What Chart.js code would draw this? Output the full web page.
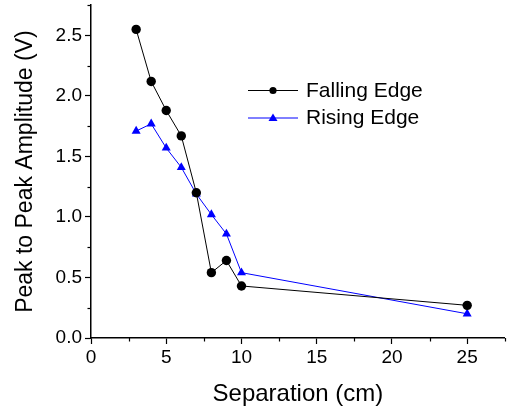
<!DOCTYPE html>
<html><head><meta charset="utf-8">
<script src="https://cdn.jsdelivr.net/npm/chart.js@4/dist/chart.umd.min.js"></script>
<style>html,body{margin:0;padding:0;background:#fff}#wrap{width:510px;height:411px}</style>
</head><body><div id="wrap"><canvas id="c" width="510" height="411"></canvas></div>
<script>
const separation = [3, 4, 5, 6, 7, 8, 9, 10, 25];
const fallingEdge = [2.55, 2.12, 1.88, 1.67, 1.20, 0.54, 0.64, 0.43, 0.27];
const risingEdge = [1.71, 1.77, 1.57, 1.41, 1.19, 1.02, 0.86, 0.54, 0.20];
const xTickLabels = ['0', '5', '10', '15', '20', '25'];
const yTickLabels = ['0.0', '0.5', '1.0', '1.5', '2.0', '2.5'];
const seriesNames = ['Falling Edge', 'Rising Edge'];
const xTitle = 'Separation (cm)';
const yTitle = 'Peak to Peak Amplitude (V)';

const FONT = "'Liberation Sans', Arial, sans-serif";
const near = (v, step) => Math.abs(v / step - Math.round(v / step)) < 1e-6;
const xMajor = v => near(v, 5);
const yMajor = v => near(v, 0.5);

const pts = ys => separation.map((x, i) => ({x: x, y: ys[i]}));

const minorTicks = {
  id: 'minorTicks',
  afterDraw(chart) {
    const ctx = chart.ctx;
    const xs = chart.scales.x, ys = chart.scales.y;
    ctx.save();
    ctx.strokeStyle = '#000';
    ctx.lineWidth = 1.2;
    xs.ticks.forEach(t => {
      if (!xMajor(t.value)) {
        const px = Math.round(xs.getPixelForValue(t.value)) + 0.5;
        ctx.beginPath(); ctx.moveTo(px, xs.top); ctx.lineTo(px, xs.top + 3.5); ctx.stroke();
      }
    });
    ys.ticks.forEach(t => {
      if (!yMajor(t.value)) {
        const py = Math.round(ys.getPixelForValue(t.value)) + 0.5;
        ctx.beginPath(); ctx.moveTo(ys.right, py); ctx.lineTo(ys.right - 3.5, py); ctx.stroke();
      }
    });
    ctx.restore();
  }
};

const customLegend = {
  id: 'customLegend',
  afterDraw(chart) {
    const ctx = chart.ctx;
    const rows = [
      {y: 90, color: '#000', style: 'circle'},
      {y: 117.5, color: '#0000ff', style: 'triangle'}
    ];
    ctx.save();
    rows.forEach((r, i) => {
      ctx.strokeStyle = r.color;
      ctx.lineWidth = 1;
      ctx.beginPath(); ctx.moveTo(248, r.y + 0.5); ctx.lineTo(298, r.y + 0.5); ctx.stroke();
      ctx.fillStyle = r.color;
      ctx.beginPath();
      if (r.style === 'circle') {
        ctx.arc(273, r.y + 0.5, 3.6, 0, Math.PI * 2);
      } else {
        ctx.moveTo(273, r.y - 4);
        ctx.lineTo(277.5, r.y + 3.5);
        ctx.lineTo(268.5, r.y + 3.5);
        ctx.closePath();
      }
      ctx.fill();
      ctx.fillStyle = '#000';
      ctx.font = '21px ' + FONT;
      ctx.textBaseline = 'middle';
      ctx.textAlign = 'left';
      ctx.fillText(chart.data.datasets[i].label, 306, r.y + 1);
    });
    ctx.restore();
  }
};

new Chart(document.getElementById('c'), {
  type: 'scatter',
  data: {
    datasets: [
      {
        label: seriesNames[0],
        data: pts(fallingEdge),
        showLine: true,
        borderColor: '#000',
        backgroundColor: '#000',
        borderWidth: 1,
        pointStyle: 'circle',
        pointRadius: 4.7,
        pointBorderWidth: 0,
        pointBackgroundColor: '#000'
      },
      {
        label: seriesNames[1],
        data: pts(risingEdge),
        showLine: true,
        borderColor: '#0000ff',
        backgroundColor: '#0000ff',
        borderWidth: 1,
        pointStyle: 'triangle',
        pointRadius: 5.2,
        pointBorderWidth: 0,
        pointBackgroundColor: '#0000ff'
      }
    ]
  },
  options: {
    responsive: false,
    animation: false,
    devicePixelRatio: 1,
    layout: {padding: {top: 4.7, right: 5, left: 0, bottom: 0}},
    plugins: {legend: {display: false}, tooltip: {enabled: false}},
    scales: {
      x: {
        type: 'linear',
        min: 0, max: 27.5,
        afterFit(s) { s.height = 73; s.paddingLeft = 0; s.paddingRight = 0; },
        border: {display: true, color: '#000', width: 1.5},
        grid: {
          drawOnChartArea: false, drawTicks: true, tickLength: 6,
          tickWidth: 1.2,
          tickColor: c => (c.tick && xMajor(c.tick.value)) ? '#000' : 'rgba(0,0,0,0)'
        },
        ticks: {
          stepSize: 2.5, autoSkip: false, maxRotation: 0, padding: 2,
          color: '#000',
          font: {family: FONT, size: 19, lineHeight: 1.2},
          callback: v => xMajor(v) ? xTickLabels[Math.round(v / 5)] : ''
        },
        title: {
          display: true, text: xTitle, color: '#000',
          font: {family: FONT, size: 24, lineHeight: 1.2},
          padding: {top: 0, bottom: 2}
        }
      },
      y: {
        type: 'linear',
        min: 0, max: 2.75,
        afterFit(s) { s.width = 91; s.paddingTop = 0; s.paddingBottom = 0; },
        border: {display: true, color: '#000', width: 1.5},
        grid: {
          drawOnChartArea: false, drawTicks: true, tickLength: 6,
          tickWidth: 1.2,
          tickColor: c => (c.tick && yMajor(c.tick.value)) ? '#000' : 'rgba(0,0,0,0)'
        },
        ticks: {
          stepSize: 0.25, autoSkip: false, padding: 3,
          color: '#000',
          font: {family: FONT, size: 19, lineHeight: 1.2},
          callback: v => yMajor(v) ? yTickLabels[Math.round(v / 0.5)] : ''
        },
        title: {
          display: true, text: yTitle, color: '#000',
          font: {family: FONT, size: 23, lineHeight: 1.2},
          padding: {top: 12, bottom: 0}
        }
      }
    }
  },
  plugins: [minorTicks, customLegend]
});
</script>
</body></html>
